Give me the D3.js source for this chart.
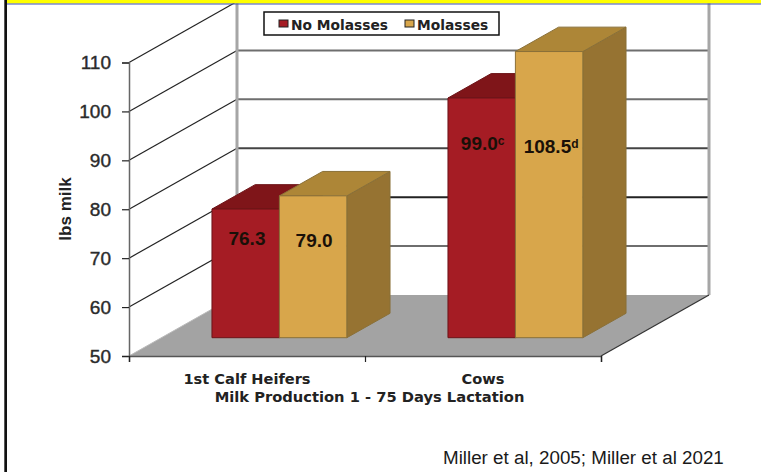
<!DOCTYPE html>
<html>
<head>
<meta charset="utf-8">
<script src="https://cdn.jsdelivr.net/npm/d3@7"></script>
<style>
  html, body { margin: 0; padding: 0; background: #fff; }
  svg { display: block; }
</style>
</head>
<body>
<div id="chart"></div>
<script>
// Milk production bars, drawn as a 3D column chart
const categories = ["1st Calf Heifers", "Cows"];
const seriesNames = ["No Molasses", "Molasses"];
const noMolasses = [76.3, 99.0];
const molasses = [79.0, 108.5];
const valueTexts = [["76.3", "79.0"], ["99.0", "108.5"]];
const valueSuffixes = [["", ""], ["c", "d"]];
const yTicks = [50, 60, 70, 80, 90, 100, 110];

const width = 761;
const height = 472;

const svg = d3.select("#chart").append("svg")
    .attr("width", width)
    .attr("height", height)
    .attr("viewBox", [0, 0, width, height]);

const x = d3.scaleBand().domain(categories).range([129, 601]);
const xInner = d3.scaleBand().domain(seriesNames).range([0, x.bandwidth()]).paddingOuter(0.75);
const y = d3.scaleLinear().domain([50, 110]).range([356, 62.5]);

// depth axis: 0 = front edge of the floor, 1 = back wall
const depth = d3.scaleLinear().domain([0, 1]).range([0, 1]);
const depthX = 108;
const depthY = -61;
const barFront = 0.3;
const barBack = 0.7;

// project a point (px along category axis, value, depth) to the screen
function pt(px, value, d) {
    return [px + depth(d) * depthX, y(value) + depth(d) * depthY];
}
const poly = pts => pts.map(p => p.join(",")).join(" ");

const xLeft = x.range()[0];
const xRight = x.range()[1];

// floor
svg.append("polygon")
    .attr("points", poly([pt(xLeft, 50, 0), pt(xRight, 50, 0), pt(xRight, 50, 1), pt(xLeft, 50, 1)]))
    .attr("fill", "#a3a3a3");

// gridlines on the side wall and back wall
svg.append("g").selectAll("line")
    .data(yTicks.filter(t => t > 50))
    .join("line")
    .attr("x1", pt(xLeft, 50, 0)[0])
    .attr("y1", d => y(d))
    .attr("x2", pt(xLeft, 50, 1)[0])
    .attr("y2", d => y(d) + depthY)
    .attr("stroke", "#222")
    .attr("stroke-width", 1.2);

svg.append("g").selectAll("line")
    .data(yTicks.filter(t => t > 50))
    .join("line")
    .attr("x1", pt(xLeft, 50, 1)[0])
    .attr("y1", d => y(d) + depthY)
    .attr("x2", pt(xRight, 50, 1)[0])
    .attr("y2", d => y(d) + depthY)
    .attr("stroke", d => d === 70 ? "#222" : (d === 80 ? "#444" : "#6e6e6e"))
    .attr("stroke-width", 2);

// wall uprights
[xLeft, xRight].forEach(px => {
    svg.append("line")
        .attr("x1", pt(px, 50, 1)[0])
        .attr("y1", pt(px, 50, 1)[1])
        .attr("x2", pt(px, 50, 1)[0])
        .attr("y2", 0)
        .attr("stroke", "#a6a6a6")
        .attr("stroke-width", 3);
});

svg.append("line")
    .attr("x1", pt(xLeft, 50, 0)[0]).attr("y1", pt(xLeft, 50, 0)[1])
    .attr("x2", pt(xLeft, 50, 1)[0]).attr("y2", pt(xLeft, 50, 1)[1])
    .attr("stroke", "#bbb");
svg.append("line")
    .attr("x1", pt(xRight, 50, 0)[0]).attr("y1", pt(xRight, 50, 0)[1])
    .attr("x2", pt(xRight, 50, 1)[0]).attr("y2", pt(xRight, 50, 1)[1])
    .attr("stroke", "#333")
    .attr("stroke-width", 1.2);

// columns
const barColors = {
    "No Molasses": { front: "#a51c24", top: "#7f1519", side: "#6f1216", edge: "#6d1418" },
    "Molasses": { front: "#d8a64b", top: "#ad8637", side: "#967332", edge: "#8a7038" }
};
const seriesValues = [noMolasses, molasses];

categories.forEach((cat, ci) => {
    seriesNames.forEach((name, si) => {
        const v = seriesValues[si][ci];
        const x0 = x(cat) + xInner(name);
        const x1 = x0 + xInner.bandwidth();
        const c = barColors[name];
        const g = svg.append("g")
            .attr("stroke", c.edge)
            .attr("stroke-width", 1)
            .attr("stroke-linejoin", "round");
        g.append("polygon")
            .attr("fill", c.side)
            .attr("points", poly([pt(x1, 50, barFront), pt(x1, 50, barBack), pt(x1, v, barBack), pt(x1, v, barFront)]));
        g.append("polygon")
            .attr("fill", c.top)
            .attr("points", poly([pt(x0, v, barFront), pt(x1, v, barFront), pt(x1, v, barBack), pt(x0, v, barBack)]));
        g.append("polygon")
            .attr("fill", c.front)
            .attr("points", poly([pt(x0, 50, barFront), pt(x1, 50, barFront), pt(x1, v, barFront), pt(x0, v, barFront)]));
    });
});

// value labels: each category keeps its own label row
const labelFont = "Liberation Sans, Arial, sans-serif";
const labelRows = [[245, 246.5], [149.5, 153]];
const labelShift = [[1.3, 1], [1, 2]];
categories.forEach((cat, ci) => {
    seriesNames.forEach((name, si) => {
        const cx = x(cat) + xInner(name) + xInner.bandwidth() / 2 + barFront * depthX;
        const t = svg.append("text")
            .attr("x", cx + labelShift[ci][si])
            .attr("y", labelRows[ci][si])
            .attr("text-anchor", "middle")
            .attr("font-family", labelFont)
            .attr("font-weight", "bold")
            .attr("font-size", 19)
            .attr("fill", "#1a1008");
        t.append("tspan").text(valueTexts[ci][si]);
        if (valueSuffixes[ci][si]) {
            t.append("tspan")
                .attr("dy", -5)
                .attr("font-size", 12)
                .text(valueSuffixes[ci][si]);
        }
    });
});

// y axis
const yAxis = d3.axisLeft(y)
    .tickValues(yTicks)
    .tickSize(7)
    .tickPadding(11);
const yG = svg.append("g")
    .attr("transform", `translate(${xLeft},0)`)
    .call(yAxis);
yG.select(".domain").attr("stroke", "#666").attr("stroke-width", 1.5);
yG.selectAll(".tick line").attr("stroke", "#222").attr("stroke-width", 1.2);
yG.selectAll(".tick text")
    .attr("font-family", labelFont)
    .attr("font-size", 19)
    .attr("fill", "#2b2b2b")
    .attr("stroke", "#2b2b2b")
    .attr("stroke-width", 0.4);

// x axis with ticks at the category boundaries
const xEdges = d3.scaleLinear().domain([0, categories.length]).range([xLeft, xRight]);
const xAxis = d3.axisBottom(xEdges)
    .tickValues(d3.range(categories.length + 1))
    .tickSize(6)
    .tickFormat("");
const xG = svg.append("g")
    .attr("transform", `translate(0,${y(50)})`)
    .call(xAxis);
xG.select(".domain").attr("stroke", "#555").attr("stroke-width", 1.5);
xG.selectAll(".tick line").attr("stroke", "#222").attr("stroke-width", 1.2);

const boldWide = "DejaVu Sans, Verdana, sans-serif";
svg.append("g").selectAll("text")
    .data(categories)
    .join("text")
    .attr("x", d => x(d) + x.bandwidth() / 2)
    .attr("y", 383.5)
    .attr("text-anchor", "middle")
    .attr("font-family", boldWide)
    .attr("font-weight", "bold")
    .attr("font-size", 14.6)
    .attr("fill", "#222")
    .text(d => d);

svg.append("text")
    .attr("x", 369.5)
    .attr("y", 401.5)
    .attr("text-anchor", "middle")
    .attr("font-family", boldWide)
    .attr("font-weight", "bold")
    .attr("font-size", 14.7)
    .attr("fill", "#222")
    .text("Milk Production 1 - 75 Days Lactation");

svg.append("text")
    .attr("transform", "translate(71,209) rotate(-90)")
    .attr("text-anchor", "middle")
    .attr("font-family", labelFont)
    .attr("font-weight", "bold")
    .attr("font-size", 17)
    .attr("fill", "#222")
    .text("lbs milk");

svg.append("text")
    .attr("x", 443)
    .attr("y", 464)
    .attr("font-family", labelFont)
    .attr("font-size", 18.8)
    .attr("fill", "#1a1a1a")
    .text("Miller et al, 2005; Miller et al 2021");

// legend
const legend = svg.append("g");
legend.append("rect")
    .attr("x", 264).attr("y", 12).attr("width", 235).attr("height", 23)
    .attr("fill", "#fff").attr("stroke", "#111").attr("stroke-width", 1.5);
const legendX = d3.scaleOrdinal().domain(seriesNames).range([279, 405]);
seriesNames.forEach(name => {
    legend.append("rect")
        .attr("x", legendX(name)).attr("y", 20)
        .attr("width", 9).attr("height", 7)
        .attr("fill", barColors[name].front)
        .attr("stroke", "#222");
    legend.append("text")
        .attr("x", legendX(name) + 12)
        .attr("y", 30)
        .attr("font-family", boldWide)
        .attr("font-weight", "bold")
        .attr("font-size", 13.8)
        .attr("fill", "#222")
        .text(name);
});

// page frame: header band and left rule
svg.append("rect").attr("x", 7).attr("y", 0).attr("width", width).attr("height", 3.5).attr("fill", "#ffff00");
svg.append("rect").attr("x", 7).attr("y", 3.5).attr("width", width).attr("height", 1).attr("fill", "#3a4fc0");
svg.append("rect").attr("x", 4.3).attr("y", 0).attr("width", 2.7).attr("height", height).attr("fill", "#111");
</script>
</body>
</html>
